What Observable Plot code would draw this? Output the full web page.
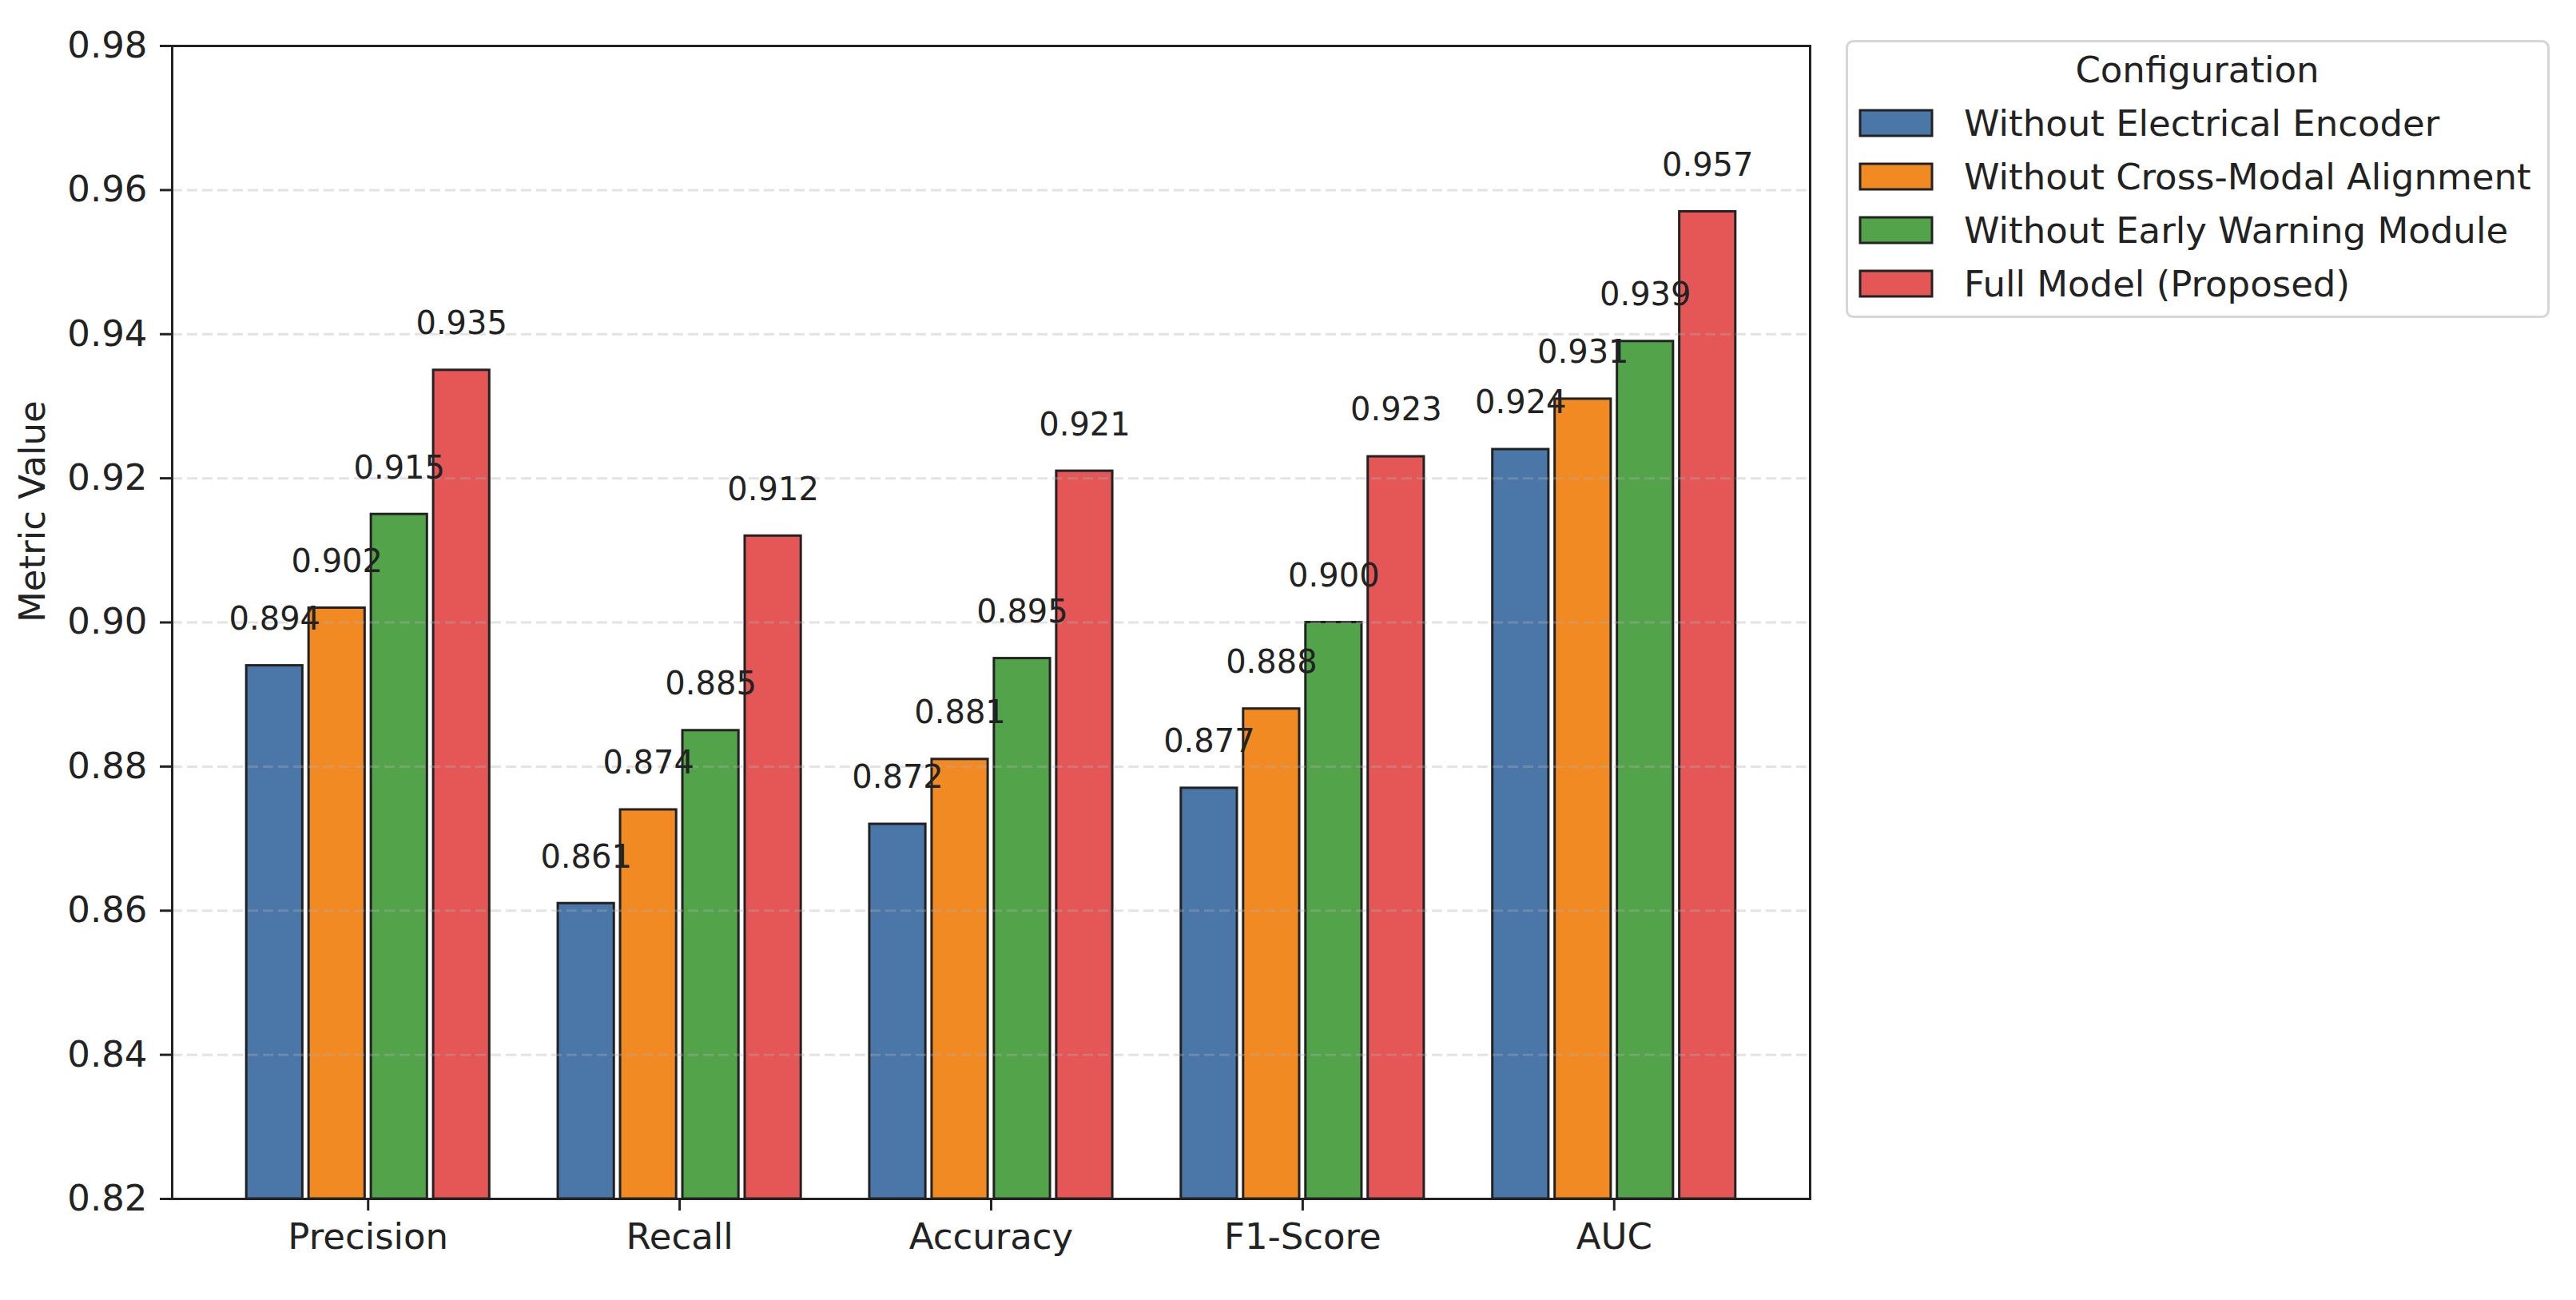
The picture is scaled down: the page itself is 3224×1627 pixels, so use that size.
<!DOCTYPE html>
<html><head><meta charset="utf-8">
<script src="https://cdn.jsdelivr.net/npm/d3@7"></script>
<script src="https://cdn.jsdelivr.net/npm/@observablehq/plot@0.6"></script>
<style>
body{margin:0;background:#fff;font-family:"DejaVu Sans";}
#wrap{position:relative;width:3224px;height:1627px;overflow:hidden;}
#wrap svg{position:absolute;left:0;top:0;}
</style></head><body><div id="wrap"></div>
<script>
const categories = ["Precision", "Recall", "Accuracy", "F1-Score", "AUC"];
const configs = ["Without Electrical Encoder", "Without Cross-Modal Alignment", "Without Early Warning Module", "Full Model (Proposed)"];
const colors = ["#4a77a8", "#f28a24", "#53a34b", "#e45756"];
const withoutElectrical = [0.894, 0.861, 0.872, 0.877, 0.924];
const withoutCrossModal = [0.902, 0.874, 0.881, 0.888, 0.931];
const withoutEarlyWarning = [0.915, 0.885, 0.895, 0.900, 0.939];
const fullModel = [0.935, 0.912, 0.921, 0.923, 0.957];
const yTicks = [0.82, 0.84, 0.86, 0.88, 0.90, 0.92, 0.94, 0.96, 0.98];
const gridTicks = [0.84, 0.86, 0.88, 0.90, 0.92, 0.94, 0.96];
const yLabel = "Metric Value";
const legendTitle = "Configuration";

const series = [withoutElectrical, withoutCrossModal, withoutEarlyWarning, fullModel];
const barWidth = 0.18, slot = 0.2;
const rows = [];
series.forEach((vals, j) => vals.forEach((v, i) => rows.push({
  cat: categories[i], config: configs[j], value: v, center: i + (j - 1.5) * slot
})));
const xIdx = categories.map((_, i) => i);

const chart = Plot.plot({
  width: 3224, height: 1627,
  marginLeft: 215, marginRight: 959, marginTop: 57, marginBottom: 127,
  style: {fontFamily: "DejaVu Sans", fontSize: "45px", color: "#222", background: "#fff"},
  x: {type: "linear", domain: [-0.629, 4.629]},
  y: {domain: [0.82, 0.98]},
  color: {domain: configs, range: colors},
  marks: [
    Plot.rect(rows, {x1: d => d.center - barWidth / 2, x2: d => d.center + barWidth / 2, y1: 0.82, y2: "value",
      fill: "config", stroke: "#222", strokeWidth: 3}),
    Plot.ruleY(gridTicks, {stroke: "#b0b0b0", strokeOpacity: 0.35, strokeWidth: 3, strokeDasharray: "13,6"}),
    Plot.text(rows, {x: "center", y: d => d.value + 0.005, text: d => d3.format(".3f")(d.value),
      lineAnchor: "bottom", fontSize: 40, fill: "#222"}),
    Plot.axisY(yTicks, {tickFormat: d3.format(".2f"), tickSize: 15, tickPadding: 16, fontSize: 45, strokeWidth: 3, label: null}),
    Plot.axisX(xIdx, {tickFormat: i => categories[i], tickSize: 15, tickPadding: 16, fontSize: 45, strokeWidth: 3, label: null}),
    Plot.frame({stroke: "#222", strokeWidth: 3}),
    Plot.text([yLabel], {frameAnchor: "left", dx: -160, rotate: -90, lineAnchor: "bottom", fontSize: 45, fill: "#222"})
  ]
});
const wrap = document.getElementById("wrap");
wrap.appendChild(chart);

// Legend overlay
const leg = d3.select(wrap).append("svg").attr("width", 3224).attr("height", 1627)
  .style("font-family", "DejaVu Sans").style("pointer-events", "none");
leg.append("rect").attr("x", 2311.5).attr("y", 51.5).attr("width", 878).attr("height", 345).attr("rx", 8)
  .attr("fill", "#fff").attr("stroke", "#d6d6d6").attr("stroke-width", 3);
leg.append("text").attr("x", 2750).attr("y", 103).attr("text-anchor", "middle")
  .attr("font-size", 45).attr("fill", "#222").text(legendTitle);
configs.forEach((c, k) => {
  leg.append("rect").attr("x", 2328).attr("y", 138 + k * 67).attr("width", 90).attr("height", 32)
    .attr("fill", colors[k]).attr("stroke", "#222").attr("stroke-width", 3);
  leg.append("text").attr("x", 2458).attr("y", 170 + k * 67).attr("font-size", 45).attr("fill", "#222").text(c);
});
</script></body></html>
